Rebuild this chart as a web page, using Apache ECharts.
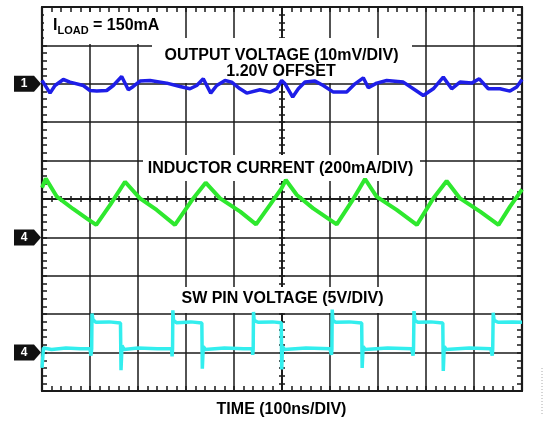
<!DOCTYPE html>
<html><head><meta charset="utf-8">
<script src="https://cdn.jsdelivr.net/npm/echarts@6/dist/echarts.min.js"></script>
<style>html,body{margin:0;padding:0;background:#fff}#c{width:543px;height:421px}</style>
</head><body><div id="c"></div>
<script>
// Channel 1: output voltage, mV relative to 1.20V offset (10mV/DIV)
const voutTimeNs = [0,16.7,27.1,44.4,58.3,86,100,114,134.8,148.5,166,179.8,190.2,204.2,225,259.8,287.5,308.3,322.3,336,351.5,364,381.3,395.2,412.5,426.5,454.2,475,489,499.4,506.3,522.3,534,547.9,568.8,586,606.9,634.8,652.1,669.4,679.8,697.3,718.1,752.7,773.5,794.4,815.2,836,853.5,870.8,895.2,911,929.8,954.2,975,989,1000];
const voutMv = [0.9,-2.42,-0.44,1.12,0.44,-0.44,-1.74,-1.9,-1.74,-0.44,1.9,-1.56,-0.7,0.7,0.86,0.18,-0.7,-1.3,-0.44,1.3,-2.42,-0.44,0.86,0.44,-1.3,-2.42,-1.56,-2.16,-1.3,0.86,0,-3.46,-1.3,0.44,0.7,-0.44,-2.16,-2.16,0,1.56,-1.04,0.18,0.86,0.44,-1.3,-3.05,-1.3,1.74,-1.3,0.44,0.18,1.3,-1.3,-1.3,-1.9,-0.86,1.1];
// Channel 4: inductor current, mA (200mA/DIV)
const ilTimeNs = [0,8,31,65,93,113,142,173,204,239,277,315,341,371,413,446,475,499,508,531,565,614,645,673,697,739,781,815,843,871,913,951,975,997,1000];
const ilMa = [259,306,212,148,99,65,169,290,203,143,65,203,285,203,134,68,169,255,299,221,151,68,186,304,212,143,65,203,294,203,134,65,160,238,250];
// Channel 4: SW pin voltage, V (5V/DIV)
const swTimeNs = [0,3,20,50,80,100,102,103.5,104.2,106,112,140,163.5,164.6,166.7,171,200,240,270,271,272,272.6,274,280,310,333,334,336,340,380,420,438,439,440,440.6,442,450,480,498.5,499.4,501,505,550,600,603,604,604.6,606,612,640,666,667,669,673,720,770,773,774,775,777,783,810,835,836,838,842,890,935,938,939,940,942,950,980,1000];
const swV = [-2.0,0.6,0.4,0.6,0.5,0.5,-0.4,0.5,5.1,4.3,3.95,4.0,3.85,-2.3,0.9,0.4,0.6,0.5,0.5,-0.5,0.5,5.5,4.2,3.9,4.0,3.85,-2.1,0.8,0.4,0.6,0.5,0.5,-0.3,0.5,5.3,4.2,3.95,4.0,3.9,-2.2,0.8,0.4,0.6,0.5,-0.3,0.5,5.6,4.2,3.95,4.0,3.85,-2.0,0.8,0.4,0.6,0.5,-0.4,0.5,5.4,4.2,3.95,4.0,3.85,-2.4,0.8,0.4,0.6,0.5,-0.4,0.5,5.2,4.2,3.95,4.0,3.95];

const titles = {
  load: '150mA',
  ch1: 'OUTPUT VOLTAGE (10mV/DIV)',
  ch1b: '1.20V OFFSET',
  il: 'INDUCTOR CURRENT (200mA/DIV)',
  sw: 'SW PIN VOLTAGE (5V/DIV)',
  time: 'TIME (100ns/DIV)'
};

const pair = (t, v) => t.map((x, i) => [x, v[i]]);
const C = '#1a1a1a';
const FONT = '"Liberation Sans", Arial, sans-serif';

function xAx(pos, offset, inside, len, lw, split) {
  return {
    type: 'value', min: 0, max: 1000, interval: 100, position: pos, offset: offset,
    axisLine: { show: true, onZero: false, lineStyle: { color: C, width: lw } },
    axisTick: { show: true, inside: inside, length: len, lineStyle: { color: C, width: 1.5 } },
    minorTick: { show: true, splitNumber: 5, length: len, lineStyle: { color: C, width: 1.5 } },
    axisLabel: { show: false },
    splitLine: { show: split, lineStyle: { color: C, width: 1.5 } },
    minorSplitLine: { show: false }
  };
}
function yAx(pos, offset, inside, len, lw, split) {
  return {
    type: 'value', min: 0, max: 10, interval: 1, position: pos, offset: offset,
    axisLine: { show: true, onZero: false, lineStyle: { color: C, width: lw } },
    axisTick: { show: true, inside: inside, length: len, lineStyle: { color: C, width: 1.5 } },
    minorTick: { show: true, splitNumber: 5, length: len, lineStyle: { color: C, width: 1.5 } },
    axisLabel: { show: false },
    splitLine: { show: split, lineStyle: { color: C, width: 1.5 } }
  };
}

const chart = echarts.init(document.getElementById('c'));
chart.setOption({
  animation: false,
  backgroundColor: '#fff',
  grid: { left: 42, top: 7, width: 480, height: 384, containLabel: false },
  xAxis: [
    xAx('bottom', 0, true, 5, 2.2, true),
    xAx('top', 0, true, 5, 2.2, false),
    xAx('bottom', -192, true, 3, 1.5, false),
    xAx('bottom', -192, false, 3, 1.5, false)
  ],
  yAxis: [
    yAx('left', 0, true, 5, 2.2, true),
    yAx('right', 0, true, 5, 2.2, false),
    yAx('left', -240, true, 3, 1.5, false),
    yAx('left', -240, false, 3, 1.5, false),
    { type: 'value', min: -80, max: 20, show: false },
    { type: 'value', min: -800, max: 1200, show: false },
    { type: 'value', min: -5, max: 45, show: false }
  ],
  series: [
    { type: 'line', xAxisIndex: 0, yAxisIndex: 4, data: pair(voutTimeNs, voutMv), showSymbol: false, z: 3,
      lineStyle: { color: '#1e1ee8', width: 3.5 } },
    { type: 'line', xAxisIndex: 0, yAxisIndex: 5, data: pair(ilTimeNs, ilMa), showSymbol: false, z: 3,
      lineStyle: { color: '#2ee82e', width: 4 } },
    { type: 'line', xAxisIndex: 0, yAxisIndex: 6, data: pair(swTimeNs, swV), showSymbol: false, z: 3,
      lineStyle: { color: '#33eeee', width: 3.5 } }
  ]
});

function marker(y, label) {
  return [
    { type: 'polygon', z: 5, shape: { points: [[14, y - 8], [34, y - 8], [41, y], [34, y + 8], [14, y + 8]] }, style: { fill: '#111' } },
    { type: 'text', z: 6, style: { text: label, x: 24, y: y, fill: '#fff', font: 'bold 12px ' + FONT, align: 'center', verticalAlign: 'middle' } }
  ];
}
function box(x, y, w, h) {
  return { type: 'rect', z: 1, shape: { x: x, y: y, width: w, height: h }, style: { fill: '#fff' } };
}
function label(text, x, y) {
  return { type: 'text', z: 1, style: { text: text, x: x, y: y, fill: '#000', font: 'bold 16px ' + FONT, align: 'center', verticalAlign: 'middle' } };
}
const y1 = chart.convertToPixel({ yAxisIndex: 4 }, 0);
const y2 = chart.convertToPixel({ yAxisIndex: 5 }, 0);
const y3 = chart.convertToPixel({ yAxisIndex: 6 }, 0);

chart.setOption({
  graphic: [
    box(44, 12, 108, 32),
    box(152, 38, 260, 45),
    box(143, 155, 277, 26),
    box(175, 287, 217, 26),
    { type: 'text', z: 1, style: {
        x: 53, y: 26, verticalAlign: 'middle', align: 'left',
        text: '{a|I}{b|LOAD}{a| = ' + titles.load + '}',
        rich: {
          a: { font: 'bold 16px ' + FONT, fill: '#000' },
          b: { font: 'bold 11px ' + FONT, fill: '#000', padding: [9, 0, 0, 0] }
        }
      } },
    label(titles.ch1, 281.5, 55.5),
    label(titles.ch1b, 281, 72),
    label(titles.il, 280.5, 169),
    label(titles.sw, 282.5, 299),
    label(titles.time, 281.5, 410),
    ...marker(y1, '1'),
    ...marker(y2, '4'),
    ...marker(y3, '4'),
    { type: 'line', z: 1, shape: { x1: 542, y1: 368, x2: 542, y2: 415 }, style: { stroke: '#aaa', lineWidth: 1, lineDash: [1, 2] } }
  ]
});
</script></body></html>
